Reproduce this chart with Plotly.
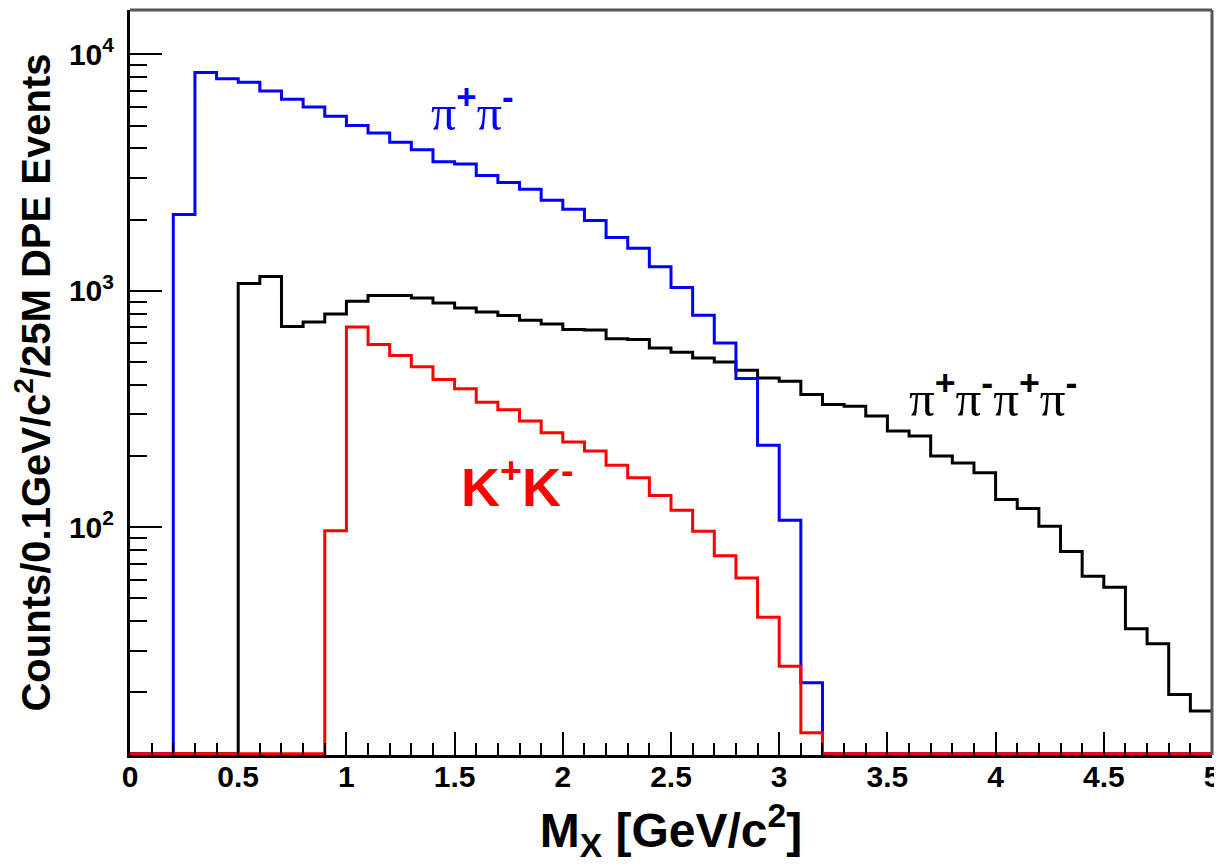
import numpy as np
import plotly.graph_objects as go

# Bin edges of M_X [GeV/c^2], 0.1 GeV/c^2 bins
mass_edges = [0.0, 0.1, 0.2, 0.3, 0.4, 0.5, 0.6, 0.7, 0.8, 0.9,
              1.0, 1.1, 1.2, 1.3, 1.4, 1.5, 1.6, 1.7, 1.8, 1.9,
              2.0, 2.1, 2.2, 2.3, 2.4, 2.5, 2.6, 2.7, 2.8, 2.9,
              3.0, 3.1, 3.2, 3.3, 3.4, 3.5, 3.6, 3.7, 3.8, 3.9,
              4.0, 4.1, 4.2, 4.3, 4.4, 4.5, 4.6, 4.7, 4.8, 4.9, 5.0]

# pi+ pi- counts per bin (blue)
pipi_counts = [0, 0, 2100, 8370, 7890, 7620, 7000, 6460, 5990, 5470,
               5000, 4650, 4250, 3950, 3510, 3440, 3070, 2870, 2690, 2414,
               2212, 1981, 1680, 1514, 1262, 1033, 787, 601, 425, 222,
               107, 22, 0, 0, 0, 0, 0, 0, 0, 0,
               0, 0, 0, 0, 0, 0, 0, 0, 0, 0]

# K+ K- counts per bin (red)
kk_counts = [0, 0, 0, 0, 0, 0, 0, 0, 0, 96.5,
             703, 592, 532, 477, 421, 385, 338, 314, 281, 251,
             229, 210, 183, 162, 136, 118, 96, 75.7, 61, 41.6,
             25.8, 13.5, 0, 0, 0, 0, 0, 0, 0, 0,
             0, 0, 0, 0, 0, 0, 0, 0, 0, 0]

# pi+ pi- pi+ pi- counts per bin (black)
pi4_counts = [0, 0, 0, 0, 0, 1072, 1148, 706, 738, 797,
              902, 955, 955, 931, 887, 845, 813, 785, 750, 723,
              686, 682, 627, 622, 573, 549, 520, 500, 461, 428,
              414, 364, 330, 325, 295, 255, 243, 200, 187, 170,
              131, 120, 101, 79, 62, 55.7, 37.2, 32.1, 19.6, 16.7]

y_major = [100, 1000, 10000]
y_major_text = ["10<sup>2</sup>", "10<sup>3</sup>", "10<sup>4</sup>"]
y_minor = [20, 30, 40, 50, 60, 70, 80, 90,
           200, 300, 400, 500, 600, 700, 800, 900,
           2000, 3000, 4000, 5000, 6000, 7000, 8000, 9000]

Y_MIN = 11
Y_MAX = 15400
FLOOR = Y_MIN  # empty bins drawn on the baseline, as ROOT does on log scale


def step_y(counts):
    vals = [c if c > 0 else FLOOR for c in counts]
    return vals + [vals[-1]]


fig = go.Figure()
for counts, color in [(pi4_counts, "black"), (pipi_counts, "#0000ff"), (kk_counts, "#ff0000")]:
    fig.add_trace(go.Scatter(
        x=mass_edges, y=step_y(counts), mode="lines",
        line=dict(color=color, width=3, shape="hv"),
        showlegend=False, hoverinfo="skip"))

bold = dict(family="Liberation Sans, Arial, sans-serif", color="black", weight="bold")

fig.update_layout(
    width=1214, height=858,
    margin=dict(l=122, r=10, t=2, b=111),
    plot_bgcolor="white", paper_bgcolor="white",
    showlegend=False,
)

fig.update_xaxes(
    range=[0, 5], showgrid=False, zeroline=False, automargin=False,
    showline=True, linecolor="black", linewidth=3,
    ticks="inside", ticklen=23, tickwidth=2, tickcolor="black",
    tick0=0, dtick=0.5, ticklabelstandoff=-7,
    tickfont=dict(size=30, **bold),
    minor=dict(ticks="inside", ticklen=12, tickwidth=2, tickcolor="black",
               dtick=0.1, tick0=0, showgrid=False),
    title=dict(text="M<sub>X</sub> [GeV/c<sup>2</sup>]", font=dict(size=48, **bold), standoff=22),
)

fig.update_yaxes(
    type="log", range=[np.log10(Y_MIN) - 0.005, np.log10(Y_MAX)],
    showgrid=False, zeroline=False, automargin=False,
    showline=True, linecolor="black", linewidth=3,
    ticks="inside", ticklen=32, tickwidth=2, tickcolor="black",
    tickmode="array", tickvals=y_major, ticktext=y_major_text,
    ticklabelstandoff=7,
    tickfont=dict(size=30, **bold),
    minor=dict(ticks="inside", ticklen=17, tickwidth=2, tickcolor="black",
               tickmode="array", tickvals=y_minor, showgrid=False),
    title=dict(text="Counts/0.1GeV/c<sup>2</sup>/25M DPE Events", font=dict(size=40, **bold), standoff=10),
)

# Top and right frame lines (grey, as in the ROOT canvas)
fig.add_shape(type="line", xref="paper", yref="paper", x0=0, x1=1, y0=1, y1=1,
              line=dict(color="#555555", width=3))
fig.add_shape(type="line", xref="paper", yref="paper", x0=1, x1=1, y0=0, y1=1,
              line=dict(color="#555555", width=3))

serif = "Liberation Serif, Times New Roman, serif"
sans = "Liberation Sans, Arial, sans-serif"


def sup(s):
    return '<sup><span style="font-family:%s;font-weight:bold">%s</span></sup>' % ("Liberation Sans", s)


pipi_label = "π" + sup("+") + "π" + sup("-")
pi4_label = pipi_label + "π" + sup("+") + "π" + sup("-")

fig.add_annotation(x=1.585, y=3.77, xref="x", yref="y", showarrow=False,
                   text=pipi_label,
                   font=dict(family=serif, size=50, color="#0000ff"))
fig.add_annotation(x=3.99, y=2.56, xref="x", yref="y", showarrow=False,
                   text=pi4_label,
                   font=dict(family=serif, size=51, color="black"))
fig.add_annotation(x=1.79, y=2.186, xref="x", yref="y", showarrow=False,
                   text="K<sup>+</sup>K<sup>-</sup>",
                   font=dict(family=sans, size=54, color="#ff0000", weight="bold"))

fig.write_html("out.html")
